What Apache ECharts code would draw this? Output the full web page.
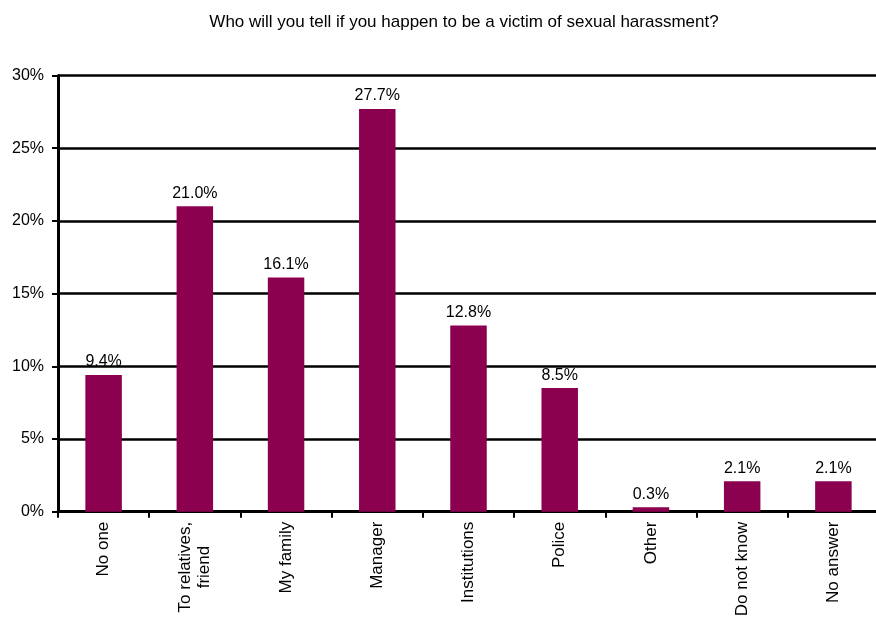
<!DOCTYPE html>
<html>
<head>
<meta charset="utf-8">
<style>
  html, body { margin: 0; padding: 0; background: #ffffff; }
  #chart { width: 876px; height: 617px; }
</style>
<script src="https://cdn.jsdelivr.net/npm/echarts@6/dist/echarts.min.js"></script>
</head>
<body>
<div id="chart"></div>
<script>
// Survey answers: who respondents would tell about sexual harassment
const categories = ['No one', 'To relatives,\nfriend', 'My family', 'Manager', 'Institutions', 'Police', 'Other', 'Do not know', 'No answer'];
const shares = [9.4, 21.0, 16.1, 27.7, 12.8, 8.5, 0.3, 2.1, 2.1];
const yTicks = [0, 5, 10, 15, 20, 25, 30];

const titleText = 'Who will you tell if you happen to be a victim of sexual harassment?';
const FONT = '"Liberation Sans", Arial, sans-serif';
const BAR_COLOR = '#8c0050';

const chart = echarts.init(document.getElementById('chart'), null, { renderer: 'canvas' });

chart.setOption({
  backgroundColor: '#ffffff',
  animation: false,
  title: {
    text: titleText,
    left: 459,
    top: 9,
    textAlign: 'center',
    textStyle: { fontFamily: FONT, fontSize: 17, fontWeight: 'normal', color: '#000000' }
  },
  grid: { left: 58, right: -3, top: 75.5, bottom: 105.3, containLabel: false, outerBoundsMode: 'none' },
  xAxis: {
    type: 'category',
    data: categories,
    axisLine: { show: true, lineStyle: { color: '#000000', width: 3 } },
    axisTick: { show: true, alignWithLabel: false, length: 6, inside: false, lineStyle: { color: '#000000', width: 2 } },
    axisLabel: {
      rotate: 90,
      margin: 10,
      interval: 0,
      color: '#000000',
      fontFamily: FONT,
      fontSize: 17,
      lineHeight: 19,
      formatter: function (v) { return '{c|' + v.split('\n').join('}\n{c|') + '}'; },
      rich: { c: { align: 'center', fontFamily: FONT, fontSize: 17, lineHeight: 19, color: '#000000' } }
    },
    splitLine: { show: false }
  },
  yAxis: {
    type: 'value',
    min: yTicks[0],
    max: yTicks[yTicks.length - 1],
    interval: yTicks[1] - yTicks[0],
    axisLine: { show: true, lineStyle: { color: '#000000', width: 3 } },
    axisTick: { show: true, length: 6, lineStyle: { color: '#000000', width: 2 } },
    axisLabel: {
      margin: 14,
      color: '#000000',
      fontFamily: FONT,
      fontSize: 16,
      formatter: function (v) { return v + '%'; }
    },
    splitLine: { show: true, lineStyle: { color: '#000000', width: 2.5 } }
  },
  series: [{
    type: 'bar',
    data: shares,
    barWidth: '40%',
    itemStyle: { color: BAR_COLOR },
    label: {
      show: true,
      position: 'top',
      distance: 5,
      color: '#000000',
      fontFamily: FONT,
      fontSize: 16,
      formatter: function (p) { return p.value.toFixed(1) + '%'; }
    }
  }]
});
</script>
</body>
</html>
